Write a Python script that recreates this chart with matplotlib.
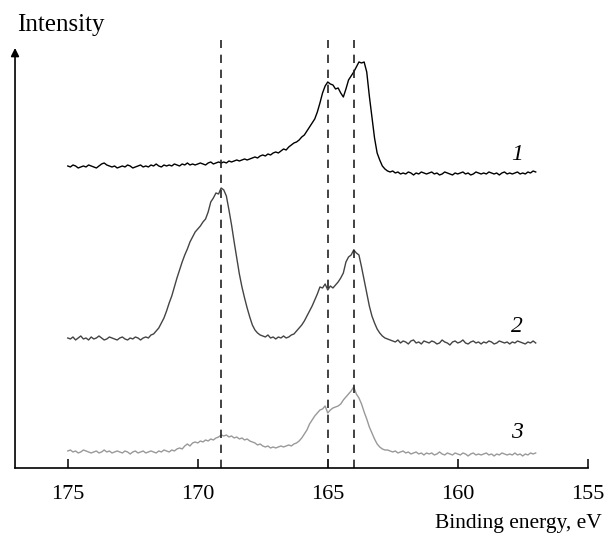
# XPS S2p spectra, three samples stacked with offsets, reversed energy axis.
import matplotlib.pyplot as plt

plt.rcParams["font.family"] = ["Liberation Serif", "DejaVu Serif"]

energy = [
    175.0, 174.9, 174.8, 174.7, 174.6, 174.5, 174.4, 174.3, 174.2, 174.1,
    174.0, 173.9, 173.8, 173.7, 173.6, 173.5, 173.4, 173.3, 173.2, 173.1,
    173.0, 172.9, 172.8, 172.7, 172.6, 172.5, 172.4, 172.3, 172.2, 172.1,
    172.0, 171.9, 171.8, 171.7, 171.6, 171.5, 171.4, 171.3, 171.2, 171.1,
    171.0, 170.9, 170.8, 170.7, 170.6, 170.5, 170.4, 170.3, 170.2, 170.1,
    170.0, 169.9, 169.8, 169.7, 169.6, 169.5, 169.4, 169.3, 169.2, 169.1,
    169.0, 168.9, 168.8, 168.7, 168.6, 168.5, 168.4, 168.3, 168.2, 168.1,
    168.0, 167.9, 167.8, 167.7, 167.6, 167.5, 167.4, 167.3, 167.2, 167.1,
    167.0, 166.9, 166.8, 166.7, 166.6, 166.5, 166.4, 166.3, 166.2, 166.1,
    166.0, 165.9, 165.8, 165.7, 165.6, 165.5, 165.4, 165.3, 165.2, 165.1,
    165.0, 164.9, 164.8, 164.7, 164.6, 164.5, 164.4, 164.3, 164.2, 164.1,
    164.0, 163.9, 163.8, 163.7, 163.6, 163.5, 163.4, 163.3, 163.2, 163.1,
    163.0, 162.9, 162.8, 162.7, 162.6, 162.5, 162.4, 162.3, 162.2, 162.1,
    162.0, 161.9, 161.8, 161.7, 161.6, 161.5, 161.4, 161.3, 161.2, 161.1,
    161.0, 160.9, 160.8, 160.7, 160.6, 160.5, 160.4, 160.3, 160.2, 160.1,
    160.0, 159.9, 159.8, 159.7, 159.6, 159.5, 159.4, 159.3, 159.2, 159.1,
    159.0, 158.9, 158.8, 158.7, 158.6, 158.5, 158.4, 158.3, 158.2, 158.1,
    158.0, 157.9, 157.8, 157.7, 157.6, 157.5, 157.4, 157.3, 157.2, 157.1,
    157.0,
]

# curve 1 (top)
spec1 = [
    302, 301, 303, 302, 300, 301, 302, 301, 303, 302,
    301, 300, 302, 304, 305, 303, 302, 301, 302, 300,
    301, 302, 301, 303, 302, 300, 301, 302, 303, 301,
    302, 301, 303, 302, 304, 302, 301, 303, 302, 303,
    302, 304, 303, 302, 304, 303, 305, 303, 304, 303,
    304, 305, 304, 303, 305, 306, 304, 305, 306, 305,
    306, 305, 307, 306, 307, 308, 307, 308, 309, 308,
    309, 310, 311, 310, 312, 313, 312, 314, 313, 315,
    316, 315, 317, 319, 318, 321, 323, 325, 326, 328,
    331, 333, 337, 341, 345, 349, 356, 365, 375, 382,
    386, 384, 383, 379, 380, 375, 371, 379, 388, 392,
    396, 401, 406, 405, 406, 396, 372, 351, 330, 315,
    308, 302, 299, 297, 296, 297, 295, 296, 294, 295,
    294, 296, 295, 293, 295, 294, 296, 295, 294, 295,
    296, 294, 295, 293, 294, 296, 295, 294, 293, 295,
    294, 295, 296, 294, 295, 293, 294, 296, 295, 294,
    295, 294, 296, 295, 294, 295, 293, 295, 296, 294,
    295, 294, 295, 296, 294, 295, 294, 296, 295, 297,
    296,
]

# curve 2 (middle)
spec2 = [
    130, 129, 131, 128, 130, 132, 129, 130, 128, 131,
    129, 130, 132, 130, 128, 129, 131, 130, 129, 128,
    130, 131, 129, 128, 130, 129, 131, 130, 128, 130,
    131, 130, 133, 134, 137, 140, 145, 150, 157, 165,
    172, 181, 190, 198, 206, 213, 219, 226, 231, 236,
    239, 242, 246, 249, 256, 266, 270, 275, 274, 280,
    278, 272, 258, 243, 226, 210, 194, 181, 170, 160,
    151, 143, 138, 135, 133, 132, 131, 133, 130, 131,
    129, 131, 130, 132, 130, 131, 133, 134, 137, 140,
    143, 147, 152, 157, 162, 168, 174, 181, 180, 184,
    178, 182, 180, 183, 186, 190, 195, 206, 211, 213,
    218, 215, 213, 201, 188, 175, 162, 152, 145, 139,
    135, 132, 130, 129, 128, 127, 126, 128, 125, 127,
    126, 124, 127, 128, 125, 126, 124, 127, 126, 125,
    127, 126, 124, 125, 128, 126, 125, 123, 126, 127,
    125, 126, 128, 125, 124, 126, 127, 125, 126, 124,
    126, 125, 127, 126, 124, 125, 127, 126, 125, 126,
    124, 126, 125, 127, 126, 125, 124, 126, 125, 127,
    125,
]

# curve 3 (bottom)
spec3 = [
    17, 18, 16, 17, 15, 16, 18, 17, 16, 15,
    16, 17, 15, 16, 18, 16, 17, 15, 16, 17,
    16, 15, 17, 16, 14, 16, 17, 15, 16, 17,
    15, 16, 17, 16, 15, 17, 16, 18, 17, 16,
    18, 17, 19, 20, 19, 22, 24, 22, 25, 26,
    25, 27, 26, 28, 27, 29, 28, 30, 31, 33,
    32, 33, 31, 32, 30, 31, 29, 30, 28, 29,
    27, 26, 25, 23, 24, 22, 21, 22, 20, 21,
    20, 21, 22, 21, 22, 23, 22, 24, 25, 27,
    30, 34, 38, 44, 48, 52, 55, 58, 59, 62,
    55, 58, 60, 61, 62, 64, 68, 71, 74, 77,
    81, 74, 70, 64, 56, 49, 41, 35, 29, 24,
    21, 19, 18, 18, 17, 16, 17, 15, 16, 17,
    15, 16, 14, 15, 16, 14, 15, 13, 15, 14,
    15, 13, 14, 16, 14, 13, 15, 14, 13, 15,
    14, 13, 15, 14, 12, 14, 15, 13, 14, 13,
    14, 15, 13, 14, 12, 14, 13, 15, 14, 13,
    14, 13, 15, 13, 14, 12, 14, 13, 15, 14,
    15,
]

peak_lines = [169.1, 165.0, 164.0]
xticks = [175, 170, 165, 160, 155]

fig = plt.figure(figsize=(6.08, 5.36), dpi=100)
ax = fig.add_axes([0.0247, 0.1269, 0.9419, 0.7985])

ax.plot(energy, spec1, color="black", lw=1.0)
ax.plot(energy, spec2, color="#444444", lw=1.0)
ax.plot(energy, spec3, color="#999999", lw=1.0)

for e in peak_lines:
    ax.axvline(e, color="#222222", lw=1.2, linestyle=(0, (5, 4)))

ax.set_xlim(177.03, 155)
ax.set_ylim(0, 428)

for s in ["top", "right", "left"]:
    ax.spines[s].set_visible(False)
ax.spines["bottom"].set_linewidth(1.2)

ax.annotate("", xy=(177.03, 420), xytext=(177.03, 0),
            arrowprops=dict(arrowstyle="-|>", lw=1.2, color="black",
                            mutation_scale=12, shrinkA=0, shrinkB=0),
            annotation_clip=False)

ax.set_xticks(xticks)
ax.set_xticklabels([str(t) for t in xticks])
ax.tick_params(axis="x", direction="in", length=6.5, width=1.1,
               labelsize=16, pad=12)
ax.set_yticks([])

for txt, y in [("1", 313), ("2", 141), ("3", 35)]:
    ax.text(157.72, y, txt, fontsize=17, style="italic",
            ha="center", va="center")

fig.text(0.028, 0.953, "Intensity", fontsize=18, ha="left", va="center")
fig.text(0.99, 0.024, "Binding energy, eV", fontsize=15.5,
         ha="right", va="center")

fig.savefig("out.png", dpi=100)
